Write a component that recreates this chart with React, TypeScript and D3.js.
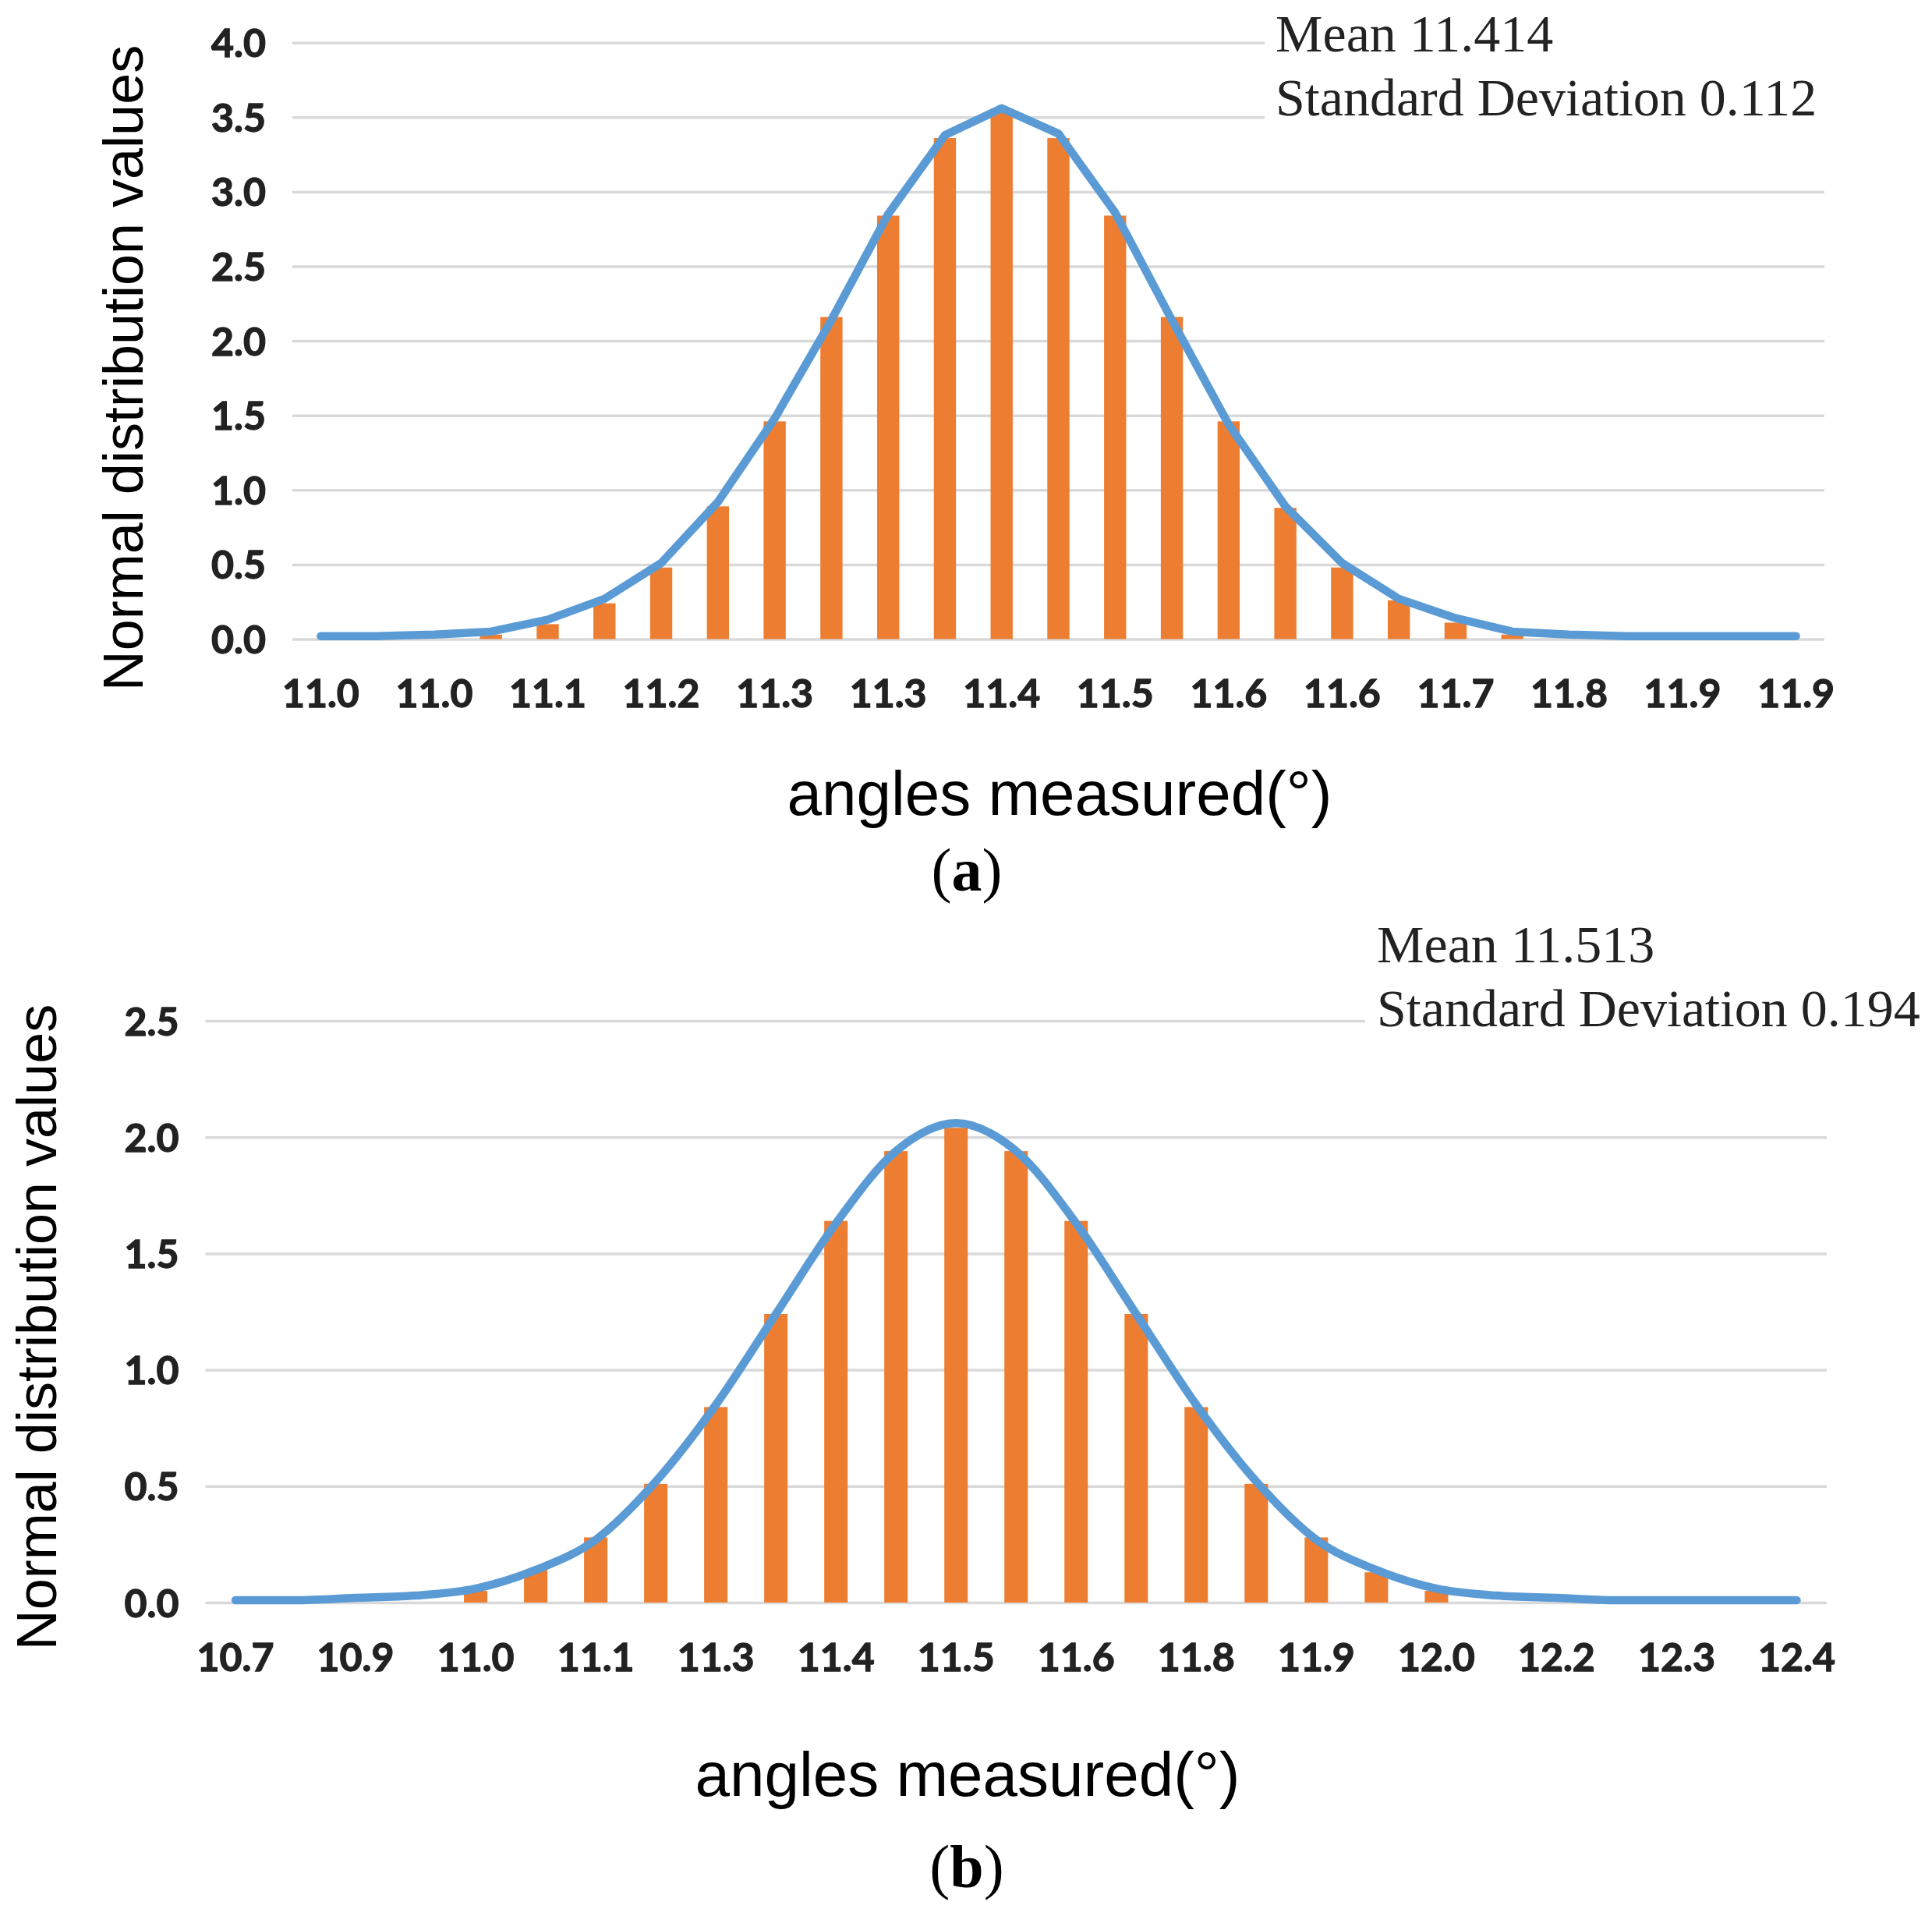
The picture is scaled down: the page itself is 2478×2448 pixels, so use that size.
import { useEffect, useRef } from "react";
import * as d3 from "d3";

const W = 2478, H = 2448;

// panel (a)
const ticksA = ["11.0", "11.0", "11.1", "11.2", "11.3", "11.3", "11.4", "11.5", "11.6", "11.6", "11.7", "11.8", "11.9", "11.9"];
const lineA = [0.02, 0.02, 0.03, 0.05, 0.13, 0.27, 0.51, 0.92, 1.48, 2.14, 2.85, 3.38, 3.56, 3.39, 2.86, 2.14, 1.44, 0.89, 0.51, 0.27, 0.14, 0.05, 0.03, 0.02, 0.02, 0.02, 0.02];
const barsA = [null, null, null, 0.03, 0.10, 0.24, 0.48, 0.89, 1.46, 2.16, 2.84, 3.36, 3.53, 3.36, 2.84, 2.16, 1.46, 0.88, 0.48, 0.26, 0.11, 0.03, null, null, null, null, null];
const yTicksA = [0, 0.5, 1, 1.5, 2, 2.5, 3, 3.5, 4];
const statsA = ["Mean 11.414", "Standard Deviation 0.112"];

// panel (b)
const ticksB = ["10.7", "10.9", "11.0", "11.1", "11.3", "11.4", "11.5", "11.6", "11.8", "11.9", "12.0", "12.2", "12.3", "12.4"];
const lineB = [0.01, 0.01, 0.02, 0.03, 0.06, 0.14, 0.27, 0.52, 0.85, 1.24, 1.63, 1.94, 2.06, 1.94, 1.63, 1.24, 0.85, 0.52, 0.27, 0.14, 0.06, 0.03, 0.02, 0.01, 0.01, 0.01, 0.01];
const barsB = [null, null, null, null, 0.05, 0.14, 0.28, 0.51, 0.84, 1.24, 1.64, 1.94, 2.04, 1.94, 1.64, 1.24, 0.84, 0.51, 0.28, 0.13, 0.05, null, null, null, null, null, null];
const yTicksB = [0, 0.5, 1, 1.5, 2, 2.5];
const statsB = ["Mean 11.513", "Standard Deviation 0.194"];

const yTitle = "Normal distribution values";
const xTitle = "angles measured(°)";

const ORANGE = "#ED7D31", BLUE = "#5B9BD5", GRID = "#D9D9D9", INK = "#222";
const TICK_FONT = "Lato, 'Open Sans', sans-serif";
const SANS = "'Liberation Sans', Arial, sans-serif";
const SERIF = "'Liberation Serif', 'Times New Roman', serif";

interface Panel {
  line: number[]; bars: (number | null)[]; ticks: string[]; yTicks: number[]; stats: string[]; tag: string;
  smooth: boolean;
  x0: number; x1: number; yZero: number; yTop: number;
  yTitleX: number; yTitleY: number; xTitleX: number; xTitleY: number; tagY: number;
  statsX: number; statsY: number; coverX: number; coverY0: number; coverY1: number;
}

const panels: Panel[] = [
  {
    line: lineA, bars: barsA, ticks: ticksA, yTicks: yTicksA, stats: statsA, tag: "a", smooth: false,
    x0: 375, x1: 2340, yZero: 819.5, yTop: 54.7,
    yTitleX: 158, yTitleY: 472, xTitleX: 1359, xTitleY: 1045, tagY: 1142,
    statsX: 1636, statsY: 66, coverX: 1622, coverY0: 0, coverY1: 200,
  },
  {
    line: lineB, bars: barsB, ticks: ticksB, yTicks: yTicksB, stats: statsB, tag: "b", smooth: true,
    x0: 263.5, x1: 2343, yZero: 2055, yTop: 1309,
    yTitleX: 47, yTitleY: 1702, xTitleX: 1241, xTitleY: 2303, tagY: 2420,
    statsX: 1766, statsY: 1234, coverX: 1751, coverY0: 1160, coverY1: 1345,
  },
];

export default function App() {
  const ref = useRef<SVGSVGElement>(null);

  useEffect(() => {
    if (!ref.current) return;
    const svg = d3.select(ref.current);
    svg.selectAll("*").remove();
    svg.append("rect").attr("width", W).attr("height", H).attr("fill", "#fff");

    for (const p of panels) {
      const g = svg.append("g");
      const x = d3.scaleBand<number>().domain(d3.range(p.line.length)).range([p.x0, p.x1]);
      const bw = x.bandwidth();
      const cx = (i: number) => (x(i) ?? 0) + bw / 2;
      const yMax = p.yTicks[p.yTicks.length - 1];
      const y = d3.scaleLinear().domain([0, yMax]).range([p.yZero, p.yTop]);

      // grid + y labels
      g.append("g").attr("transform", `translate(${p.x0},0)`)
        .call(d3.axisLeft(y).tickValues(p.yTicks).tickSize(-(p.x1 - p.x0)).tickPadding(34).tickFormat(d3.format(".1f")))
        .call(a => a.select(".domain").remove())
        .call(a => a.selectAll("line").attr("stroke", GRID).attr("stroke-width", 3.5))
        .call(a => a.selectAll("text").attr("font-family", TICK_FONT).attr("font-weight", 700)
          .attr("font-size", 50).attr("fill", INK).attr("stroke", INK).attr("stroke-width", 1.3)
          .attr("dy", "0.36em"));

      // white box behind the stats text hides the top gridlines
      g.append("rect").attr("x", p.coverX).attr("y", p.coverY0)
        .attr("width", W - p.coverX).attr("height", p.coverY1 - p.coverY0).attr("fill", "#fff");

      // x labels, every second category
      g.append("g").attr("transform", `translate(0,${p.yZero})`)
        .call(d3.axisBottom(x).tickValues(d3.range(0, p.line.length, 2)).tickSize(0).tickPadding(52)
          .tickFormat((_, k) => p.ticks[k]))
        .call(a => a.select(".domain").remove())
        .call(a => a.selectAll("text").attr("font-family", TICK_FONT).attr("font-weight", 700)
          .attr("font-size", 50).attr("fill", INK).attr("stroke", INK).attr("stroke-width", 1.3));

      // bars
      const barW = bw * 0.39;
      g.selectAll("rect.bar")
        .data(p.bars.map((v, i) => ({ v, i })).filter(d => d.v != null))
        .enter().append("rect").attr("class", "bar")
        .attr("x", d => cx(d.i) - barW / 2).attr("width", barW)
        .attr("y", d => y(d.v as number)).attr("height", d => p.yZero - y(d.v as number))
        .attr("fill", ORANGE);

      // line
      const line = d3.line<number>().x((_, i) => cx(i)).y(v => y(v))
        .curve(p.smooth ? d3.curveMonotoneX : d3.curveLinear);
      g.append("path").attr("d", line(p.line)).attr("fill", "none")
        .attr("stroke", BLUE).attr("stroke-width", 10.5).attr("stroke-linejoin", "round").attr("stroke-linecap", "round");

      // titles
      g.append("text").attr("transform", `translate(${p.yTitleX},${p.yTitleY}) rotate(-90)`)
        .attr("text-anchor", "middle").attr("dominant-baseline", "central")
        .attr("font-family", SANS).attr("font-size", 72).attr("fill", "#000").text(yTitle);
      g.append("text").attr("x", p.xTitleX).attr("y", p.xTitleY)
        .attr("text-anchor", "middle").attr("font-family", SANS).attr("font-size", 80).attr("fill", "#000")
        .text(xTitle);

      // stats annotation
      p.stats.forEach((s, k) => {
        g.append("text").attr("x", p.statsX).attr("y", p.statsY + k * 82)
          .attr("font-family", SERIF).attr("font-size", 68).attr("fill", "#222").text(s);
      });

      // panel tag
      const t = g.append("text").attr("x", 1240).attr("y", p.tagY).attr("text-anchor", "middle")
        .attr("font-family", SERIF).attr("font-size", 78).attr("fill", "#000");
      t.append("tspan").text("(");
      t.append("tspan").attr("font-weight", 700).text(p.tag);
      t.append("tspan").text(")");
    }
  }, []);

  return (
    <svg ref={ref} width={W} height={H} viewBox={`0 0 ${W} ${H}`}
      style={{ position: "absolute", left: 0, top: 0, display: "block" }} />
  );
}
